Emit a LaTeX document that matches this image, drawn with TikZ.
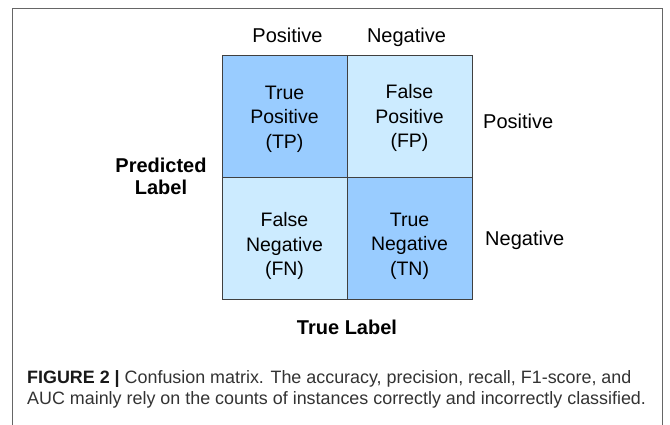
\documentclass[tikz,border=0pt]{standalone}
\usepackage{fontspec}
\setmainfont{Liberation Sans}
\definecolor{cellDark}{HTML}{99CCFF}
\definecolor{cellLight}{HTML}{CCEBFF}
\definecolor{gridLine}{HTML}{404040}
\definecolor{frameLine}{HTML}{666666}
\definecolor{captionText}{HTML}{333333}
\begin{document}
\begin{tikzpicture}[x=1pt,y=-1pt,
  cell/.style={draw=gridLine, line width=0.9pt, minimum width=125pt, minimum height=122pt,
    inner sep=0pt},
  celltext/.style={inner sep=0pt, align=center, font=\fontsize{19.5}{24.5}\selectfont},
  axislabel/.style={inner sep=0pt, anchor=base, font=\fontsize{20}{24}\selectfont},
  axistitle/.style={inner sep=0pt, anchor=base, align=center, font=\fontsize{20}{22.5}\selectfont\bfseries},
  caption/.style={inner sep=0pt, anchor=base west, align=left, text=captionText,
    font=\fontsize{17.9}{20.5}\selectfont}]
  \useasboundingbox (0,0) rectangle (670,425);
  \fill[white] (0,0) rectangle (670,425);
  % open-bottomed panel frame
  \draw[frameLine, line width=0.9pt] (12,425) -- (12,8) -- (662,8) -- (662,425);

  % confusion matrix cells
  \node[cell, fill=cellDark]  (tp) at (284.5,116) {};
  \node[cell, fill=cellLight] (fp) at (409.5,116) {};
  \node[cell, fill=cellLight] (fn) at (284.5,238) {};
  \node[cell, fill=cellDark]  (tn) at (409.5,238) {};
  \node[celltext] (tptext) at (284.5,119) {True\\Positive\\(TP)};
  \node[celltext] (fptext) at (409.5,118) {False\\Positive\\(FP)};
  \node[celltext] (fntext) at (284.5,246) {False\\Negative\\(FN)};
  \node[celltext] (tntext) at (409.5,246) {True\\Negative\\(TN)};

  % column headings (true label)
  \node[axislabel] (colpos) at (287.5,43) {Positive};
  \node[axislabel] (colneg) at (406.5,43) {Negative};
  % row headings (predicted label)
  \node[axislabel, anchor=base west] (rowpos) at (483,129) {Positive};
  \node[axislabel, anchor=base west] (rowneg) at (485,246) {Negative};

  \node[axistitle] (predicted) at (161,195) {Predicted\\Label};
  \node[axistitle] (truelabel) at (347,334) {True Label};

  \node[caption] (cap) at (27,404) {{\color{black!90}\bfseries FIGURE 2 |} Confusion matrix. The accuracy, precision, recall, F1-score, and\\
    AUC mainly rely on the counts of instances correctly and incorrectly classified.};
\end{tikzpicture}
\end{document}
